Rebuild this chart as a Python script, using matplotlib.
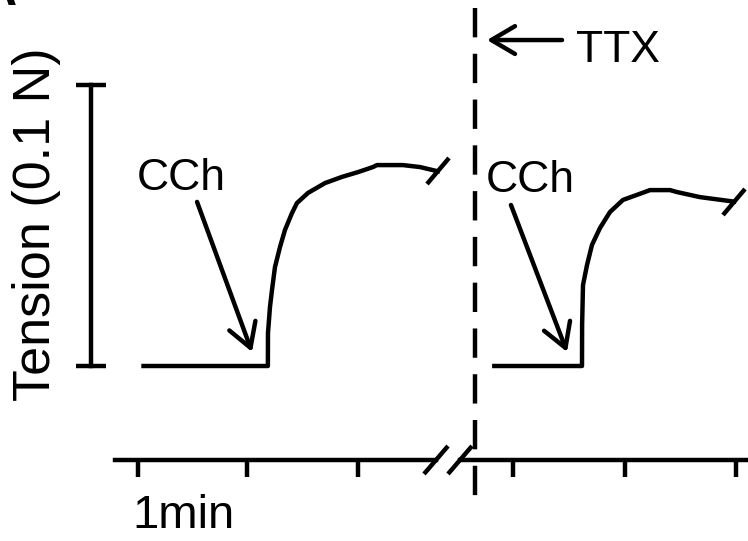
import matplotlib.pyplot as plt
from matplotlib.markers import MarkerStyle
from matplotlib.transforms import Affine2D

plt.rcParams['font.family'] = ['Liberation Sans', 'DejaVu Sans']

# Data: time in min, tension in N (scale bar = 0.1 N)
t_before = [0.05, 1.17, 1.171, 1.189, 1.207, 1.234, 1.279, 1.324, 1.387, 1.432, 1.532,
            1.685, 1.838, 1.982, 2.117, 2.153, 2.387, 2.54, 2.70]
f_before = [0.0, 0.0, 0.0117, 0.021, 0.027, 0.0352, 0.0423, 0.0484, 0.0544, 0.058, 0.0616,
            0.0651, 0.0673, 0.069, 0.0708, 0.0715, 0.0715, 0.0708, 0.0693]
t_ttx = [3.21, 4.00, 4.001, 4.009, 4.045, 4.09, 4.162, 4.252, 4.369, 4.495, 4.613,
         4.793, 4.856, 5.063, 5.37]
f_ttx = [0.0, 0.0, 0.0146, 0.0288, 0.0359, 0.0431, 0.0491, 0.0548, 0.0591, 0.0609, 0.0626,
         0.0626, 0.0619, 0.0601, 0.0585]

ticks_left = [0.0, 0.98, 1.98]
ticks_right = [3.38, 4.39, 5.39]
axis_left = [-0.21, 2.685]
axis_right = [2.90, 5.6]
axis_y = -0.0335
ttx_time = 3.04
scale_x = -0.423
scale_span = [0.0, 0.1]

fig = plt.figure(figsize=(7.48, 5.41), dpi=100)
ax = fig.add_axes([0, 0, 1, 1])
ax.set_xlim(-138 / 111, 610 / 111)
ax.set_ylim((366 - 541) / 2810, 366 / 2810)
ax.axis('off')

lw = 3.2
slash = MarkerStyle('|', transform=Affine2D().rotate_deg(-40))

# traces with break marks at the end
ax.plot(t_before, f_before, color='black', lw=lw, solid_joinstyle='round')
ax.plot(t_before[-1], f_before[-1], marker=slash, ms=25, mew=lw, color='black')
ax.plot(t_ttx, f_ttx, color='black', lw=lw, solid_joinstyle='round')
ax.plot(t_ttx[-1], f_ttx[-1], marker=slash, ms=25, mew=lw, color='black')

# tension scale bar
ax.plot([scale_x, scale_x], scale_span, color='black', lw=lw,
        marker='_', ms=21, mew=lw)

# time axis with break
ax.plot(axis_left, [axis_y, axis_y], color='black', lw=lw)
ax.plot(axis_right, [axis_y, axis_y], color='black', lw=lw)
ax.plot(axis_left[1], axis_y, marker=slash, ms=26, mew=lw, color='black')
ax.plot(axis_right[0], axis_y, marker=slash, ms=26, mew=lw, color='black')
ax.vlines(ticks_left + ticks_right, axis_y - 0.006, axis_y, color='black', lw=lw)

# TTX application line
ax.plot([ttx_time, ttx_time], [0.1274, -0.0463], color='black', lw=lw,
        dashes=(6.6, 3.7))

arrow = dict(arrowstyle='->, head_length=0.85, head_width=0.5',
             lw=lw, color='black', mutation_scale=20, shrinkA=0, shrinkB=0)
fs = 32
ax.annotate('', xy=(3.144, 0.116), xytext=(3.82, 0.116), arrowprops=arrow)
ax.text(3.946, 0.1082, 'TTX', fontsize=fs, ha='left', va='baseline')

ax.annotate('', xy=(1.027, 0.005), xytext=(0.532, 0.0584), arrowprops=arrow)
ax.text(-0.01, 0.0626, 'CCh', fontsize=fs, ha='left', va='baseline')
ax.annotate('', xy=(3.865, 0.005), xytext=(3.36, 0.0573), arrowprops=arrow)
ax.text(3.13, 0.0619, 'CCh', fontsize=fs, ha='left', va='baseline')

ax.text(-0.055, -0.0577, '1min', fontsize=34, ha='left', va='baseline')
ax.text(-0.79, 0.0505, 'Tension (0.1 N)', fontsize=37.5, rotation=90,
        rotation_mode='anchor', ha='center', va='baseline')

# panel letter, cut off at the corner
ax.text(-1.09, 0.1285, 'A', fontsize=36, fontweight='bold', ha='right', va='baseline')

fig.savefig('out.png', dpi=100)
